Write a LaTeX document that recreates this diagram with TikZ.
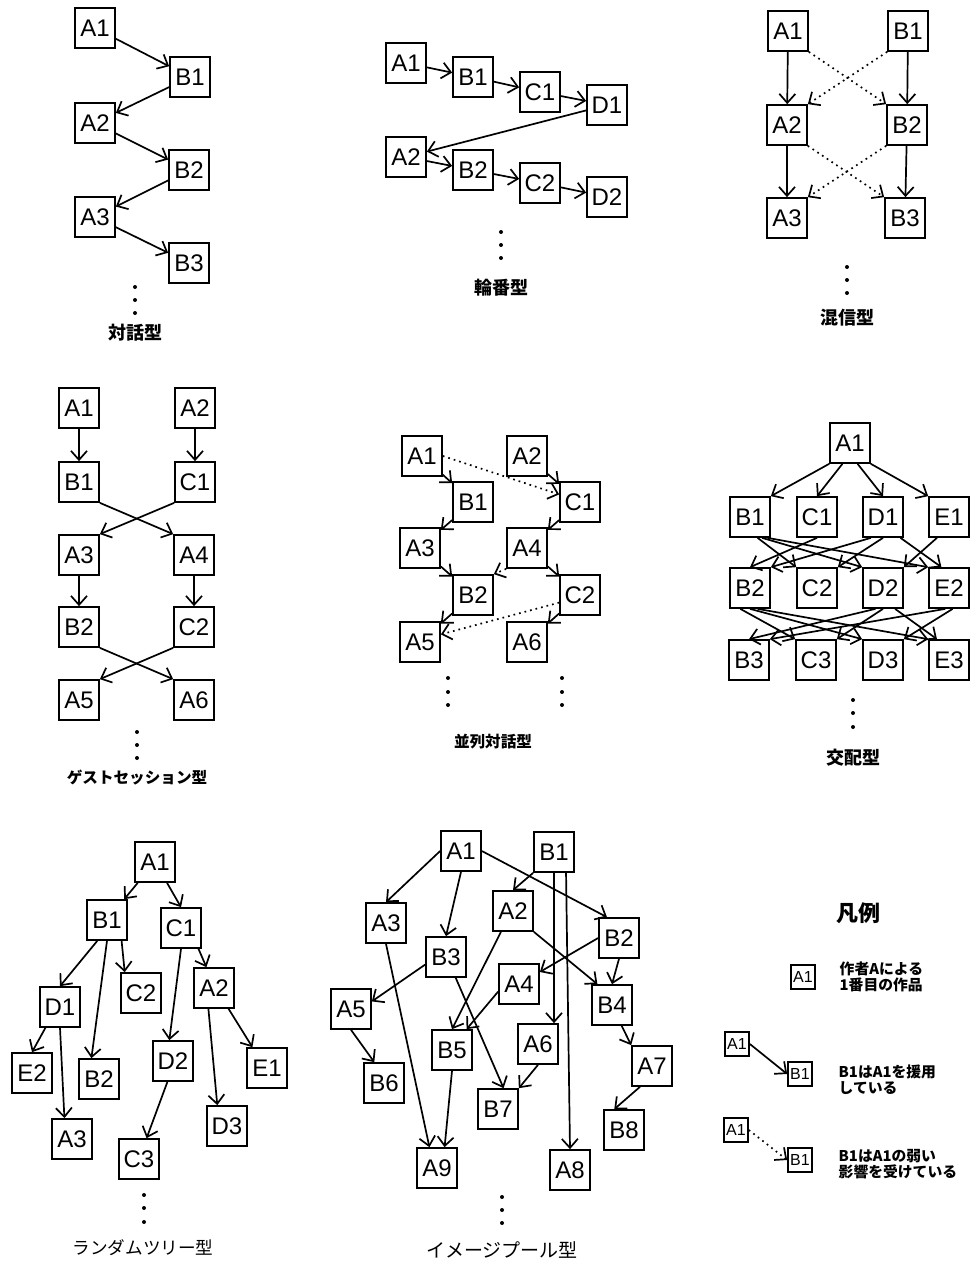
\documentclass[tikz,border=0pt]{standalone}
\usepackage{fontspec}
\setmainfont{Liberation Sans}
\newfontfamily\jpfont{Noto Sans CJK JP}
\usetikzlibrary{arrows.meta, positioning}

\begin{document}
\begin{tikzpicture}[x=0.5pt, y=-0.5pt, line width=0.85pt,
                work/.style={draw, minimum size=20pt, inner sep=0pt, font=\fontsize{12}{12}\selectfont},
                small work/.style={draw, minimum size=12pt, inner sep=0pt, font=\fontsize{8}{8}\selectfont},
                cite/.style={-{Straight Barb[length=4.5pt, width=8pt]}},
                weak/.style={cite, dotted},
                type name/.style={font=\jpfont\bfseries\fontsize{9}{9}\selectfont},
                note/.style={font=\jpfont\bfseries\fontsize{7.4}{8.2}\selectfont, align=left, inner sep=0pt}]

                \useasboundingbox (0,0) rectangle (972,1268);

                % Dialogue type
                \node[work] (da-A1) at (95,28) {A1};
                \node[work] (da-B1) at (190,77) {B1};
                \node[work] (da-A2) at (95,123) {A2};
                \node[work] (da-B2) at (189,170) {B2};
                \node[work] (da-A3) at (95,217) {A3};
                \node[work] (da-B3) at (189,263) {B3};
                \draw[cite] (da-A1) -- (da-B1);
                \draw[cite] (da-B1) -- (da-A2);
                \draw[cite] (da-A2) -- (da-B2);
                \draw[cite] (da-B2) -- (da-A3);
                \draw[cite] (da-A3) -- (da-B3);
                \fill (135,287) circle (1pt) (135,300) circle (1pt) (135,313) circle (1pt);
                \node[type name] (da-name) at (135,333) {対話型};

                % Rotation type
                \node[work] (rb-A1) at (406,63) {A1};
                \node[work] (rb-B1) at (473,77) {B1};
                \node[work] (rb-C1) at (540,92) {C1};
                \node[work] (rb-D1) at (607,105) {D1};
                \node[work] (rb-A2) at (406,157) {A2};
                \node[work] (rb-B2) at (473,170) {B2};
                \node[work] (rb-C2) at (540,183) {C2};
                \node[work] (rb-D2) at (607,197) {D2};
                \draw[cite] (rb-A1) -- (rb-B1);
                \draw[cite] (rb-B1) -- (rb-C1);
                \draw[cite] (rb-C1) -- (rb-D1);
                \draw[cite] (rb-D1) -- (rb-A2);
                \draw[cite] (rb-A2) -- (rb-B2);
                \draw[cite] (rb-B2) -- (rb-C2);
                \draw[cite] (rb-C2) -- (rb-D2);
                \fill (501,232) circle (1pt) (501,245) circle (1pt) (501,258) circle (1pt);
                \node[type name] (rb-name) at (501,288) {輪番型};

                % Crosstalk type
                \node[work] (ks-A1) at (788,31) {A1};
                \node[work] (ks-B1) at (908,31) {B1};
                \node[work] (ks-A2) at (787,125) {A2};
                \node[work] (ks-B2) at (907,125) {B2};
                \node[work] (ks-A3) at (787,218) {A3};
                \node[work] (ks-B3) at (905,218) {B3};
                \draw[cite] (ks-A1) -- (ks-A2);
                \draw[cite] (ks-B1) -- (ks-B2);
                \draw[cite] (ks-A2) -- (ks-A3);
                \draw[cite] (ks-B2) -- (ks-B3);
                \draw[weak] (ks-A1.south east) -- (ks-B2.north west);
                \draw[weak] (ks-B1.south west) -- (ks-A2.north east);
                \draw[weak] (ks-A2.south east) -- (ks-B3.north west);
                \draw[weak] (ks-B2.south west) -- (ks-A3.north east);
                \fill (847,267) circle (1pt) (847,280) circle (1pt) (847,293) circle (1pt);
                \node[type name] (ks-name) at (847,318) {混信型};

                % Guest session type
                \node[work] (gs-A1) at (79,408) {A1};
                \node[work] (gs-A2) at (195,408) {A2};
                \node[work] (gs-B1) at (79,482) {B1};
                \node[work] (gs-C1) at (195,482) {C1};
                \node[work] (gs-A3) at (79,555) {A3};
                \node[work] (gs-A4) at (194,555) {A4};
                \node[work] (gs-B2) at (79,627) {B2};
                \node[work] (gs-C2) at (194,627) {C2};
                \node[work] (gs-A5) at (79,700) {A5};
                \node[work] (gs-A6) at (194,700) {A6};
                \draw[cite] (gs-A1) -- (gs-B1);
                \draw[cite] (gs-A2) -- (gs-C1);
                \draw[cite] (gs-B1.south east) -- (gs-A4.north west);
                \draw[cite] (gs-C1.south west) -- (gs-A3.north east);
                \draw[cite] (gs-A3) -- (gs-B2);
                \draw[cite] (gs-A4) -- (gs-C2);
                \draw[cite] (gs-B2.south east) -- (gs-A6.north west);
                \draw[cite] (gs-C2.south west) -- (gs-A5.north east);
                \fill (137,732) circle (1pt) (137,745) circle (1pt) (137,758) circle (1pt);
                \node[type name, font=\jpfont\bfseries\fontsize{7.8}{8}\selectfont] (gs-name) at (137,778) {ゲストセッション型};

                % Parallel dialogue type
                \node[work] (hr-A1) at (422,456) {A1};
                \node[work] (hr-A2) at (527,456) {A2};
                \node[work] (hr-B1) at (473,502) {B1};
                \node[work] (hr-C1) at (580,502) {C1};
                \node[work] (hr-A3) at (420,548) {A3};
                \node[work] (hr-A4) at (527,548) {A4};
                \node[work] (hr-B2) at (473,595) {B2};
                \node[work] (hr-C2) at (580,595) {C2};
                \node[work] (hr-A5) at (420,642) {A5};
                \node[work] (hr-A6) at (527,642) {A6};
                \draw[cite] (hr-A1) -- (hr-B1);
                \draw[cite] (hr-A2) -- (hr-C1);
                \draw[cite] (hr-B1) -- (hr-A3);
                \draw[cite] (hr-C1) -- (hr-A4);
                \draw[cite] (hr-A3) -- (hr-B2);
                \draw[cite] (hr-A4) -- (hr-C2);
                \draw[cite] (hr-B2) -- (hr-A5);
                \draw[cite] (hr-C2) -- (hr-A6);
                \draw[weak] (hr-A1.east) -- (hr-C1.160);
                \draw[weak] (hr-A4.south west) -- (hr-B2.north east);
                \draw[weak] (hr-C2.200) -- (hr-A5.20);
                \fill (448,678) circle (1pt) (448,692) circle (1pt) (448,705) circle (1pt);
                \fill (562,678) circle (1pt) (562,692) circle (1pt) (562,705) circle (1pt);
                \node[type name, font=\jpfont\bfseries\fontsize{7.8}{8}\selectfont] (hr-name) at (493,742) {並列対話型};

                % Crossbreeding type
                \node[work] (kh-A1) at (850,443) {A1};
                \node[work] (kh-B1) at (750,517) {B1};
                \node[work] (kh-C1) at (817,517) {C1};
                \node[work] (kh-D1) at (883,517) {D1};
                \node[work] (kh-E1) at (949,517) {E1};
                \node[work] (kh-B2) at (750,588) {B2};
                \node[work] (kh-C2) at (817,588) {C2};
                \node[work] (kh-D2) at (883,588) {D2};
                \node[work] (kh-E2) at (949,588) {E2};
                \node[work] (kh-B3) at (749,660) {B3};
                \node[work] (kh-C3) at (816,660) {C3};
                \node[work] (kh-D3) at (883,660) {D3};
                \node[work] (kh-E3) at (949,660) {E3};
                \draw[cite] (kh-A1.south west) -- (kh-B1.north east);
                \draw[cite] (kh-A1.250) -- (kh-C1.north);
                \draw[cite] (kh-A1.290) -- (kh-D1.north);
                \draw[cite] (kh-A1.south east) -- (kh-E1.north west);
                \draw[cite] (kh-B1.-70) -- (kh-C2.north west);
                \draw[cite] (kh-B1.-60) -- (kh-D2.north west);
                \draw[cite] (kh-B1.-50) -- (kh-E2.north west);
                \draw[cite] (kh-C1.south) -- (kh-B2.north);
                \draw[cite] (kh-D1.-120) -- (kh-B2.north east);
                \draw[cite] (kh-D1.south) -- (kh-C2.north east);
                \draw[cite] (kh-D1.-50) -- (kh-E2.110);
                \draw[cite] (kh-E1.-120) -- (kh-D2.north east);
                \draw[cite] (kh-B2.-115) -- (kh-C3.north west);
                \draw[cite] (kh-B2.south) -- (kh-D3.north west);
                \draw[cite] (kh-B2.-70) -- (kh-E3.north west);
                \draw[cite] (kh-D2.-110) -- (kh-B3.north);
                \draw[cite] (kh-D2.south) -- (kh-C3.north east);
                \draw[cite] (kh-D2.-60) -- (kh-E3.120);
                \draw[cite] (kh-E2.-100) -- (kh-B3.north east);
                \draw[cite] (kh-E2.-80) -- (kh-D3.north east);
                \fill (853,700) circle (1pt) (853,713) circle (1pt) (853,727) circle (1pt);
                \node[type name] (kh-name) at (853,758) {交配型};

                % Random tree type
                \node[work] (rt-A1) at (155,862) {A1};
                \node[work] (rt-B1) at (107,920) {B1};
                \node[work] (rt-C1) at (181,928) {C1};
                \node[work] (rt-D1) at (60,1007) {D1};
                \node[work] (rt-C2) at (141,993) {C2};
                \node[work] (rt-A2) at (214,988) {A2};
                \node[work] (rt-E2) at (32,1073) {E2};
                \node[work] (rt-B2) at (99,1079) {B2};
                \node[work] (rt-D2) at (173,1061) {D2};
                \node[work] (rt-E1) at (267,1068) {E1};
                \node[work] (rt-A3) at (72,1139) {A3};
                \node[work] (rt-D3) at (227,1126) {D3};
                \node[work] (rt-C3) at (139,1159) {C3};
                \draw[cite] (rt-A1) -- (rt-B1);
                \draw[cite] (rt-A1.-60) -- (rt-C1.north);
                \draw[cite] (rt-B1.-115) -- (rt-D1.north);
                \draw[cite] (rt-B1.south) -- (rt-B2.110);
                \draw[cite] (rt-B1.-55) -- (rt-C2.128);
                \draw[cite] (rt-D1.-125) -- (rt-E2.north);
                \draw[cite] (rt-D1.south) -- (rt-A3.110);
                \draw[cite] (rt-C1.south) -- (rt-D2.100);
                \draw[cite] (rt-C1.-50) -- (rt-A2.110);
                \draw[cite] (rt-A2.-105) -- (rt-D3.115);
                \draw[cite] (rt-A2.-55) -- (rt-E1.125);
                \draw[cite] (rt-D2.-105) -- (rt-C3.70);
                \fill (144,1195) circle (1pt) (144,1208) circle (1pt) (144,1222) circle (1pt);
                \node[type name, font=\jpfont\fontsize{8.8}{9}\selectfont] (rt-name) at (143,1248) {ランダムツリー型};

                % Image pool type
                \node[work] (ip-A1) at (461,851) {A1};
                \node[work] (ip-B1) at (554,852) {B1};
                \node[work] (ip-A3) at (386,923) {A3};
                \node[work] (ip-A2) at (513,911) {A2};
                \node[work] (ip-B2) at (619,938) {B2};
                \node[work] (ip-B3) at (446,957) {B3};
                \node[work] (ip-A4) at (519,984) {A4};
                \node[work] (ip-A5) at (351,1009) {A5};
                \node[work] (ip-B4) at (612,1005) {B4};
                \node[work] (ip-B5) at (452,1050) {B5};
                \node[work] (ip-A6) at (538,1044) {A6};
                \node[work] (ip-B6) at (384,1083) {B6};
                \node[work] (ip-A7) at (652,1066) {A7};
                \node[work] (ip-B7) at (498,1109) {B7};
                \node[work] (ip-B8) at (624,1130) {B8};
                \node[work] (ip-A9) at (437,1168) {A9};
                \node[work] (ip-A8) at (570,1170) {A8};
                \draw[cite] (ip-A1.west) -- (ip-A3.north);
                \draw[cite] (ip-A1.south) -- (ip-B3.north);
                \draw[cite] (ip-A1.east) -- (ip-B2.120);
                \draw[cite] (ip-B1.south west) -- (ip-A2.north);
                \draw[cite] (ip-B1.south) -- (ip-B1.south |- ip-A6.north);
                \draw[cite] (ip-B1.-60) -- (ip-A8.north);
                \draw[cite] (ip-A2.-120) -- (ip-B5.north);
                \draw[cite] (ip-A2.south east) -- (ip-B4.125);
                \draw[cite] (ip-B2.west) -- (ip-A4.30);
                \draw[cite] (ip-B2.south) -- (ip-B4.north);
                \draw[cite] (ip-A3.south) -- (ip-A9.110);
                \draw[cite] (ip-B3.200) -- (ip-A5.20);
                \draw[cite] (ip-B3.-65) -- (ip-B7.75);
                \draw[cite] (ip-A4.200) -- (ip-B5.55);
                \draw[cite] (ip-A5.south) -- (ip-B6.115);
                \draw[cite] (ip-B5.south) -- (ip-A9.70);
                \draw[cite] (ip-A6.south) -- (ip-B7.north east);
                \draw[cite] (ip-B4.-65) -- (ip-A7.north west);
                \draw[cite] (ip-A7.-120) -- (ip-B8.115);
                \fill (502,1197) circle (1pt) (502,1210) circle (1pt) (502,1223) circle (1pt);
                \node[type name, font=\jpfont\fontsize{9.5}{10}\selectfont] (ip-name) at (502,1250) {イメージプール型};

                % Legend
                \node[font=\jpfont\bfseries\fontsize{11}{11}\selectfont] (lg-title) at (858,913) {凡例};
                \node[small work] (lg-A1) at (803,977) {A1};
                \node[note, right=11.5pt of lg-A1] (lg-work) {作者Aによる\\1番目の作品};
                \node[small work] (lg-A1b) at (737,1044) {A1};
                \node[small work] (lg-B1b) at (800,1074) {B1};
                \draw[cite] (lg-A1b.east) -- (lg-B1b.west);
                \node[note, right=12.5pt of lg-B1b, yshift=-3pt] (lg-cite) {B1はA1を援用\\している};
                \node[small work] (lg-A1c) at (736,1130) {A1};
                \node[small work] (lg-B1c) at (800,1160) {B1};
                \draw[weak] (lg-A1c.east) -- (lg-B1c.west);
                \node[note, right=12.5pt of lg-B1c, yshift=-2pt] (lg-weak) {B1はA1の弱い\\影響を受けている};
            \end{tikzpicture}
\end{document}
